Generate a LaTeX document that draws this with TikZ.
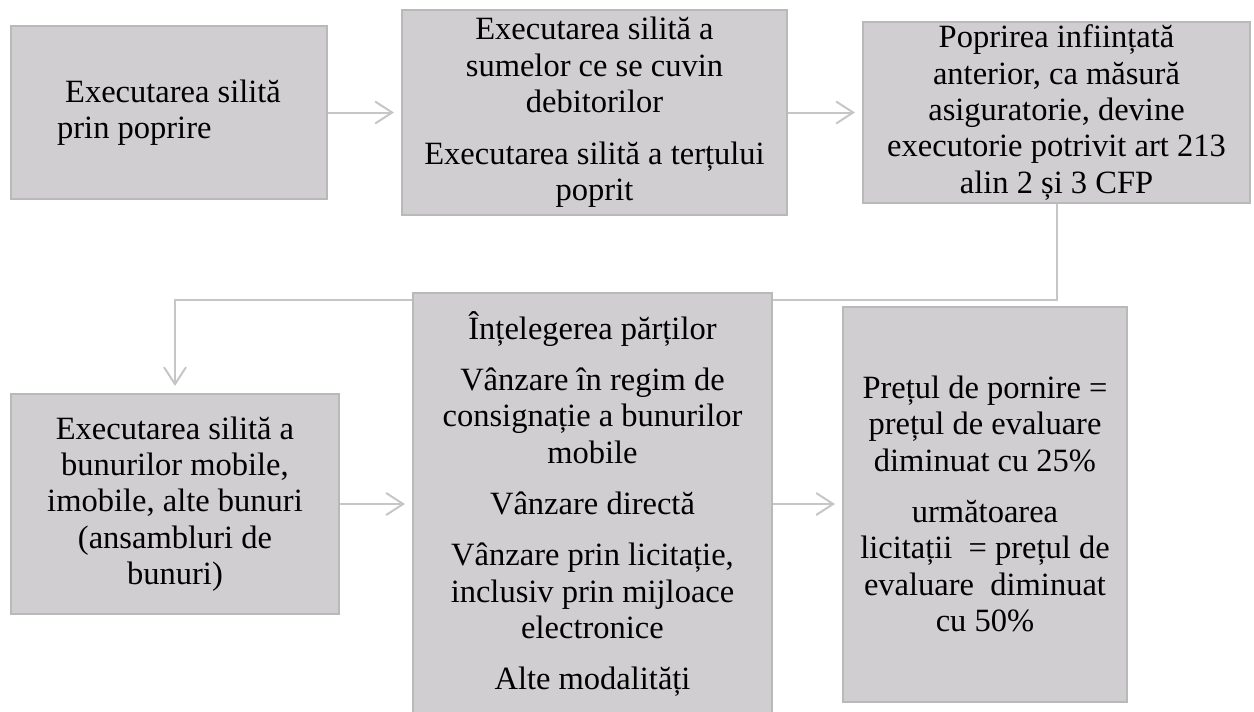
\documentclass[tikz,border=0pt]{standalone}
\usepackage{fontspec}
\setmainfont{Liberation Serif}
\usepackage{tikz}
\usetikzlibrary{arrows.meta,positioning}
\definecolor{boxfill}{RGB}{208,206,208}
\definecolor{boxline}{RGB}{185,185,185}
\definecolor{conn}{RGB}{198,198,198}
\tikzstyle{line} = [line width=0.04cm, draw=conn, -{Straight Barb[length=0.34cm,width=0.44cm]}, shorten >=0.14cm]
\tikzstyle{block} = [draw=boxline, line width=0.04cm, rectangle, fill=boxfill, align=center, inner sep=0pt, font=\fontsize{18.5}{20.7}\selectfont]

\begin{document}
\begin{tikzpicture}
        \clip (0,0) rectangle (25.08,-14.22);
        \node[block, minimum width=6.32cm, minimum height=3.46cm, align=left] (Poprire) at (3.38,-2.25) {\hspace*{0.16cm}Executarea silită\\prin poprire};
        \node[block, minimum width=7.7cm, minimum height=4.1cm, right of=Poprire, node distance=8.51cm] (Sume) {Executarea silită a\\sumelor ce se cuvin\\debitorilor\\[9pt]Executarea silită a terțului\\poprit};
        \node[block, minimum width=7.74cm, minimum height=3.62cm, right of=Sume, node distance=9.24cm] (Asigurare) {Poprirea inființată\\anterior, ca măsură\\asiguratorie, devine\\executorie potrivit art 213\\alin 2 și 3 CFP};
        \node[block, minimum width=6.56cm, minimum height=4.4cm] (Bunuri) at (3.5,-10.08) {Executarea silită a\\bunurilor mobile,\\imobile, alte bunuri\\(ansambluri de\\bunuri)};
        % legatura de sus in jos, pe sub caseta din mijloc
        \coordinate (cot) at (Asigurare.south |- 0,-6);
        \draw[line] (Asigurare.south) -- (cot) -| (Bunuri.north);
        \node[block, minimum width=7.18cm, minimum height=8.44cm, right of=Bunuri, node distance=8.35cm] (Modalitati) {Înțelegerea părților\\[8.5pt]Vânzare în regim de\\consignație a bunurilor\\mobile\\[8.5pt]Vânzare directă\\[8.5pt]Vânzare prin licitație,\\inclusiv prin mijloace\\electronice\\[8.5pt]Alte modalități};
        \node[block, minimum width=5.68cm, minimum height=7.9cm, right of=Modalitati, node distance=7.85cm] (Pret) {Prețul de pornire =\\prețul de evaluare\\diminuat cu 25\%\\[8.5pt]următoarea\\licitații \ = prețul de\\evaluare \ diminuat\\cu 50\%};
        \path[line](Poprire) edge (Sume);
        \path[line](Sume) edge (Asigurare);
        \path[line](Bunuri) edge (Modalitati);
        \path[line](Modalitati) edge (Pret);
    \end{tikzpicture}
\end{document}
